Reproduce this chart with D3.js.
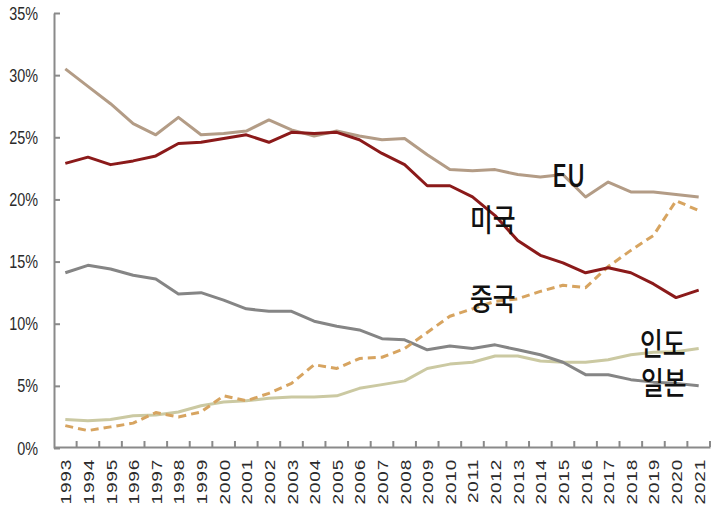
<!DOCTYPE html>
<html>
<head>
<meta charset="utf-8">
<script src="https://cdn.jsdelivr.net/npm/d3@7"></script>
<style>
  body { margin: 0; background: #fff; }
</style>
</head>
<body>
<div id="chart"></div>
<script>
// data (share, %)
const years = d3.range(1993, 2022).map(String);
const yTicks = [0, 5, 10, 15, 20, 25, 30, 35];

const eu = [30.5, 29.1, 27.7, 26.1, 25.2, 26.6, 25.2, 25.3, 25.5, 26.4, 25.6, 25.1, 25.5, 25.1, 24.8, 24.9, 23.6, 22.4, 22.3, 22.4, 22.0, 21.8, 22.0, 20.2, 21.4, 20.6, 20.6, 20.4, 20.2];
const usa = [22.9, 23.4, 22.8, 23.1, 23.5, 24.5, 24.6, 24.9, 25.2, 24.6, 25.4, 25.3, 25.4, 24.8, 23.7, 22.8, 21.1, 21.1, 20.2, 18.7, 16.7, 15.5, 14.9, 14.1, 14.5, 14.1, 13.2, 12.1, 12.7];
const japan = [14.1, 14.7, 14.4, 13.9, 13.6, 12.4, 12.5, 11.9, 11.2, 11.0, 11.0, 10.2, 9.8, 9.5, 8.8, 8.7, 7.9, 8.2, 8.0, 8.3, 7.9, 7.5, 6.9, 5.9, 5.9, 5.5, 5.3, 5.2, 5.0];
const india = [2.3, 2.2, 2.3, 2.6, 2.65, 2.9, 3.4, 3.7, 3.8, 4.0, 4.1, 4.1, 4.2, 4.8, 5.1, 5.4, 6.4, 6.75, 6.9, 7.4, 7.4, 7.0, 6.9, 6.9, 7.1, 7.5, 7.7, 7.75, 8.0];
const china = [1.8, 1.4, 1.7, 2.0, 2.85, 2.5, 2.9, 4.2, 3.8, 4.4, 5.2, 6.7, 6.4, 7.2, 7.3, 8.0, 9.3, 10.6, 11.2, 11.8, 12.0, 12.6, 13.1, 12.9, 14.6, 15.9, 17.1, 19.9, 19.1];

const width = 719;
const height = 515;
const sx = 0.8; // the picture is squeezed sideways, so text is too

const svg = d3.select("#chart")
  .append("svg")
  .attr("width", width)
  .attr("height", height);

// scales
const x = d3.scaleBand()
  .domain(years)
  .range([54, 710])
  .padding(0);
const y = d3.scaleLinear()
  .domain([0, 35])
  .range([448, 13]);

const axisColor = "#8a8a8a";
const textFont = "'Liberation Sans', Arial, sans-serif";
const labelFont = "'Noto Sans CJK KR', 'Noto Sans', sans-serif";

// y axis
const yAxis = svg.append("g")
  .attr("transform", "translate(54, 0)")
  .call(d3.axisLeft(y).tickValues(yTicks).tickSize(-6).tickSizeOuter(0).tickFormat(d => d + "%"));
yAxis.select(".domain").attr("stroke", axisColor).attr("stroke-width", 2);
yAxis.selectAll(".tick line").attr("stroke", axisColor).attr("stroke-width", 2);
yAxis.selectAll(".tick text")
  .attr("x", null)
  .attr("dy", null)
  .attr("transform", `translate(-16, 6) scale(${sx}, 1)`)
  .attr("fill", "#2a2a2a")
  .style("font-family", textFont)
  .style("font-size", "18px");

// x axis (ticks sit on the band edges, pointing up)
const xAxis = svg.append("g")
  .attr("transform", "translate(0, 447)")
  .call(d3.axisBottom(x).tickSize(0).tickSizeOuter(0).tickFormat(""));
xAxis.select(".domain").attr("stroke", axisColor).attr("stroke-width", 2);

svg.append("g")
  .selectAll("line")
  .data(years.slice(1).concat(["end"]))
  .enter().append("line")
  .attr("x1", d => d === "end" ? x.range()[1] : x(d))
  .attr("x2", d => d === "end" ? x.range()[1] : x(d))
  .attr("y1", 447)
  .attr("y2", 441)
  .attr("stroke", axisColor)
  .attr("stroke-width", 2);

svg.append("g")
  .selectAll("text")
  .data(years)
  .enter().append("text")
  .attr("transform", d => `translate(${x(d) + x.bandwidth() / 2 + 6}, 459) scale(${sx}, 1) rotate(-90)`)
  .attr("text-anchor", "end")
  .attr("fill", "#2a2a2a")
  .style("font-family", textFont)
  .style("font-size", "19px")
  .style("letter-spacing", "0.8px")
  .text(d => d);

// lines
const series = [
  { name: "India", values: india, color: "#cbc9a2", dash: null },
  { name: "Japan", values: japan, color: "#858585", dash: null },
  { name: "China", values: china, color: "#d7a460", dash: "8,5" },
  { name: "EU", values: eu, color: "#b39c86", dash: null },
  { name: "USA", values: usa, color: "#8b1a1a", dash: null }
];

const line = d3.line()
  .x((d, i) => x(years[i]) + x.bandwidth() / 2)
  .y(d => y(d));

series.forEach(s => {
  svg.append("path")
    .datum(s.values)
    .attr("d", line)
    .attr("fill", "none")
    .attr("stroke", s.color)
    .attr("stroke-width", 3)
    .attr("stroke-dasharray", s.dash)
    .attr("stroke-linejoin", "round");
});

// series labels
const labels = [
  { text: "EU", x: 552, y: 187 },
  { text: "미국", x: 470, y: 231 },
  { text: "중국", x: 470, y: 310 },
  { text: "인도", x: 640, y: 355 },
  { text: "일본", x: 641, y: 394 }
];

svg.append("g")
  .selectAll("text")
  .data(labels)
  .enter().append("text")
  .attr("transform", d => `translate(${d.x}, ${d.y}) scale(${sx}, 1)`)
  .attr("fill", "#111")
  .style("font-family", labelFont)
  .style("font-size", "31px")
  .style("font-weight", 500)
  .text(d => d.text);
</script>
</body>
</html>
